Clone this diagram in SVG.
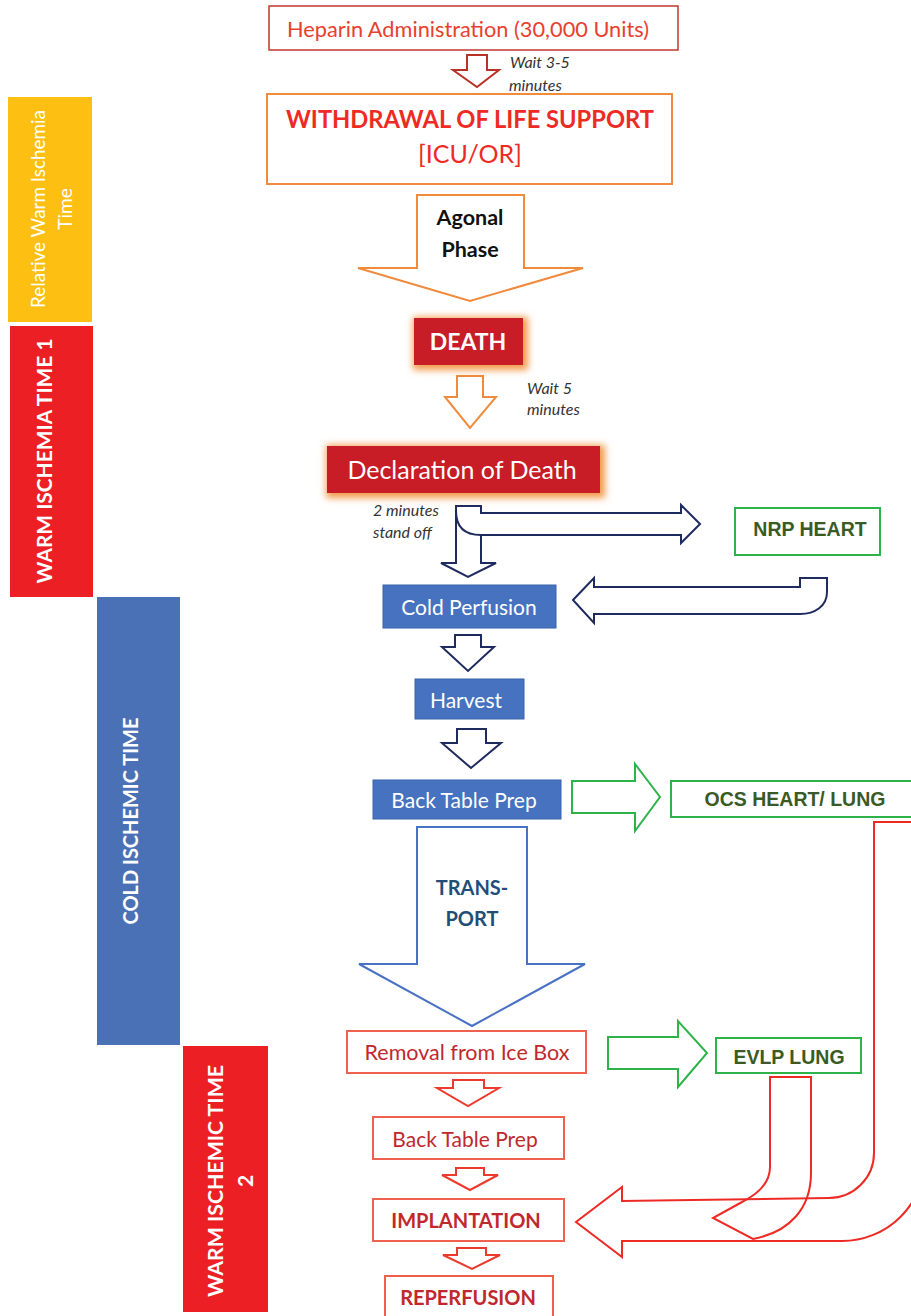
<svg xmlns="http://www.w3.org/2000/svg" width="911" height="1316" viewBox="0 0 911 1316">
<defs>
<style>
.lato{font-family:Lato,"Open Sans","Liberation Sans",sans-serif}
.arial{font-family:"Liberation Sans",Arial,sans-serif;font-weight:bold;fill:#3a5a26}
.bar{font-family:Lato,"Open Sans","Liberation Sans",sans-serif;fill:#ffffff}
.it{font-family:Lato,"Open Sans","Liberation Sans",sans-serif;font-style:italic;fill:#333333;font-size:16px}
.navy{fill:#ffffff;stroke:#1f2a5e;stroke-width:2;stroke-linejoin:miter}
.orange{fill:#ffffff;stroke:#f08a3c;stroke-width:2}
.green{fill:#ffffff;stroke:#2db34a;stroke-width:2}
.redarr{fill:#ffffff;stroke:#ee3a2e;stroke-width:2}
.bigred{fill:none;stroke:#ee2a24;stroke-width:2}
.bluebox{fill:#4672c0;stroke:#3a62aa;stroke-width:1}
.redbox{fill:#ffffff;stroke:#f0604e;stroke-width:2}
.whitetxt{fill:#ffffff}
.darkred{fill:#c0282d}
</style>
<filter id="glow" x="-30%" y="-50%" width="160%" height="200%">
<feFlood flood-color="#f39a4a" result="f"/>
<feComposite in="f" in2="SourceAlpha" operator="in" result="c"/>
<feMorphology in="c" operator="dilate" radius="2.5" result="d"/>
<feGaussianBlur in="d" stdDeviation="3.5" result="b"/>
<feOffset in="b" dx="2" dy="2" result="o"/>
<feMerge><feMergeNode in="o"/><feMergeNode in="SourceGraphic"/></feMerge>
</filter>
</defs>
<rect width="911" height="1316" fill="#ffffff"/>

<g id="bar-relative-warm">
<rect x="8" y="97" width="84" height="225" fill="#fcbf12"/>
<text class="bar" transform="translate(45,209) rotate(-90)" text-anchor="middle" font-size="19" textLength="198" lengthAdjust="spacingAndGlyphs">Relative Warm Ischemia</text>
<text class="bar" transform="translate(72,209) rotate(-90)" text-anchor="middle" font-size="19">Time</text>
</g>
<g id="bar-warm1">
<rect x="10" y="326" width="83" height="271" fill="#ec2024"/>
<text class="bar" transform="translate(52,461) rotate(-90)" text-anchor="middle" font-size="21" font-weight="bold" textLength="245" lengthAdjust="spacingAndGlyphs">WARM ISCHEMIA TIME 1</text>
</g>
<g id="bar-cold">
<rect x="97" y="597" width="83" height="448" fill="#4a71b6"/>
<text class="bar" transform="translate(138,821) rotate(-90)" text-anchor="middle" font-size="20" font-weight="bold" textLength="207" lengthAdjust="spacingAndGlyphs">COLD ISCHEMIC TIME</text>
</g>
<g id="bar-warm2">
<rect x="183" y="1046" width="85" height="266" fill="#ec2024"/>
<text class="bar" transform="translate(223,1181) rotate(-90)" text-anchor="middle" font-size="21" font-weight="bold" textLength="232" lengthAdjust="spacingAndGlyphs">WARM ISCHEMIC TIME</text>
<text class="bar" transform="translate(253,1181) rotate(-90)" text-anchor="middle" font-size="21" font-weight="bold">2</text>
</g>

<g id="connectors">
<path class="redarr" style="stroke:#b83228" d="M467,55 L487,55 L487,70 L499,70 L477,87 L453,70 L467,70 Z"/>
<path class="orange" d="M417,195 L524,195 L524,268 L583,268 L470,301 L358,268 L417,268 Z"/>
<path class="orange" d="M457,376 L483,376 L483,397 L496,397 L470,428 L445,397 L457,397 Z"/>
<path class="navy" d="M456,506 L481,506 L481,513 L681,513 L681,505 L700,524 L681,543 L681,535 L481,535 L481,563 L496,563 L468,577 L441,563 L456,563 Z"/>
<path class="navy" style="fill:none" d="M456,511 Q456,535 481,535"/>
<path class="navy" d="M573,600 L594,578 L594,587 L800,587 L800,578 L827,578 L827,592 C827,606 815,614 800,614 L594,614 L594,623 Z"/>
<path class="navy" d="M455,635 L481,635 L481,647 L494,647 L468,671 L442,647 L455,647 Z"/>
<path class="navy" d="M457,729 L486,729 L486,743 L501,743 L471,768 L442,743 L457,743 Z"/>
<path class="green" d="M572,781 L635,781 L635,764 L660,797 L635,831 L635,813 L572,813 Z"/>
<path fill="#ffffff" stroke="#4a72c4" stroke-width="2" d="M417,827 L527,827 L527,964 L585,964 L472,1026 L359,964 L417,964 Z"/>
<path class="green" d="M608,1037 L678,1037 L678,1021 L707,1053 L678,1087 L678,1069 L608,1069 Z"/>
<path class="redarr" d="M453,1080 L484,1080 L484,1088 L499,1088 L468,1106 L437,1088 L453,1088 Z"/>
<path class="redarr" d="M456,1168 L484,1168 L484,1175 L498,1175 L470,1190 L442,1175 L456,1175 Z"/>
<path class="redarr" d="M457,1248 L486,1248 L486,1255 L500,1255 L472,1269 L443,1255 L457,1255 Z"/>
<path class="bigred" d="M874,822 L925,822 L925,1158 A83,83 0 0 1 842,1241 L622,1241 L622,1257 L576,1222 L622,1187 L622,1201 L829,1198 A45,45 0 0 0 874,1153 Z"/>
<path class="bigred" d="M770,1077 L811,1077 L811,1173 C811,1208 790,1232 753,1239 L713,1218 L742,1202 C760,1193 770,1182 770,1167 Z"/>
</g>

<g id="node-heparin">
<rect x="269" y="6" width="409" height="44" fill="#ffffff" stroke="#c0392b" stroke-width="1.5"/>
<text class="lato" x="468" y="37" text-anchor="middle" font-size="21.5" fill="#e8402e" textLength="362" lengthAdjust="spacingAndGlyphs">Heparin Administration (30,000 Units)</text>
</g>
<g id="label-wait35">
<text class="it" x="510" y="68">Wait 3-5</text>
<text class="it" x="509" y="91">minutes</text>
</g>
<g id="node-withdrawal">
<rect x="267" y="94" width="405" height="90" fill="#ffffff" stroke="#f08a3c" stroke-width="2"/>
<text class="lato" x="470" y="128" text-anchor="middle" font-size="24" font-weight="bold" fill="#ee2a24" textLength="368" lengthAdjust="spacingAndGlyphs">WITHDRAWAL OF LIFE SUPPORT</text>
<text class="lato" x="470" y="163" text-anchor="middle" font-size="25" fill="#ee2a24">[ICU/OR]</text>
</g>
<g id="label-agonal">
<text class="lato" x="470" y="225" text-anchor="middle" font-size="21.5" font-weight="bold" fill="#111111">Agonal</text>
<text class="lato" x="470" y="257" text-anchor="middle" font-size="21.5" font-weight="bold" fill="#111111">Phase</text>
</g>
<g id="node-death">
<rect x="414" y="318" width="109" height="47" fill="#c81e28" filter="url(#glow)"/>
<text class="lato whitetxt" x="468" y="350" text-anchor="middle" font-size="23" font-weight="bold">DEATH</text>
</g>
<g id="label-wait5">
<text class="it" x="527" y="394">Wait 5</text>
<text class="it" x="527" y="415">minutes</text>
</g>
<g id="node-declaration">
<rect x="327" y="446" width="273" height="47" fill="#c81e28" filter="url(#glow)"/>
<text class="lato whitetxt" x="462" y="479" text-anchor="middle" font-size="25">Declaration of Death</text>
</g>
<g id="label-standoff">
<text class="it" x="373" y="516">2 minutes</text>
<text class="it" x="373" y="538">stand off</text>
</g>
<g id="node-nrp">
<rect x="735" y="508" width="145" height="47" fill="#ffffff" stroke="#2db34a" stroke-width="2"/>
<text class="arial" x="810" y="536" text-anchor="middle" font-size="19.5">NRP HEART</text>
</g>
<g id="node-cold-perfusion">
<rect class="bluebox" x="383" y="585" width="173" height="43"/>
<text class="lato whitetxt" x="469" y="615" text-anchor="middle" font-size="21">Cold Perfusion</text>
</g>
<g id="node-harvest">
<rect class="bluebox" x="415" y="679" width="109" height="40"/>
<text class="lato whitetxt" x="466" y="708" text-anchor="middle" font-size="21">Harvest</text>
</g>
<g id="node-btp-blue">
<rect class="bluebox" x="373" y="780" width="188" height="39"/>
<text class="lato whitetxt" x="464" y="808" text-anchor="middle" font-size="21">Back Table Prep</text>
</g>
<g id="node-ocs">
<rect x="671" y="781" width="260" height="36" fill="#ffffff" stroke="#2db34a" stroke-width="2"/>
<text class="arial" x="795" y="806" text-anchor="middle" font-size="19.5">OCS HEART/ LUNG</text>
</g>
<g id="label-transport">
<text class="lato" x="472" y="895" text-anchor="middle" font-size="20" font-weight="bold" fill="#1f4e79">TRANS-</text>
<text class="lato" x="472" y="926" text-anchor="middle" font-size="20" font-weight="bold" fill="#1f4e79">PORT</text>
</g>
<g id="node-removal">
<rect class="redbox" x="347" y="1031" width="239" height="42"/>
<text class="lato darkred" x="467" y="1060" text-anchor="middle" font-size="21.5">Removal from Ice Box</text>
</g>
<g id="node-evlp">
<rect x="716" y="1038" width="145" height="35" fill="#ffffff" stroke="#2db34a" stroke-width="2"/>
<text class="arial" x="789" y="1064" text-anchor="middle" font-size="19.5">EVLP LUNG</text>
</g>
<g id="node-btp-red">
<rect class="redbox" x="373" y="1117" width="191" height="42"/>
<text class="lato darkred" x="465" y="1147" text-anchor="middle" font-size="21">Back Table Prep</text>
</g>
<g id="node-implantation">
<rect class="redbox" x="373" y="1199" width="191" height="42"/>
<text class="lato darkred" x="466" y="1228" text-anchor="middle" font-size="20" font-weight="bold">IMPLANTATION</text>
</g>
<g id="node-reperfusion">
<rect class="redbox" x="385" y="1276" width="168" height="50"/>
<text class="lato darkred" x="468" y="1305" text-anchor="middle" font-size="20" font-weight="bold">REPERFUSION</text>
</g>
</svg>
